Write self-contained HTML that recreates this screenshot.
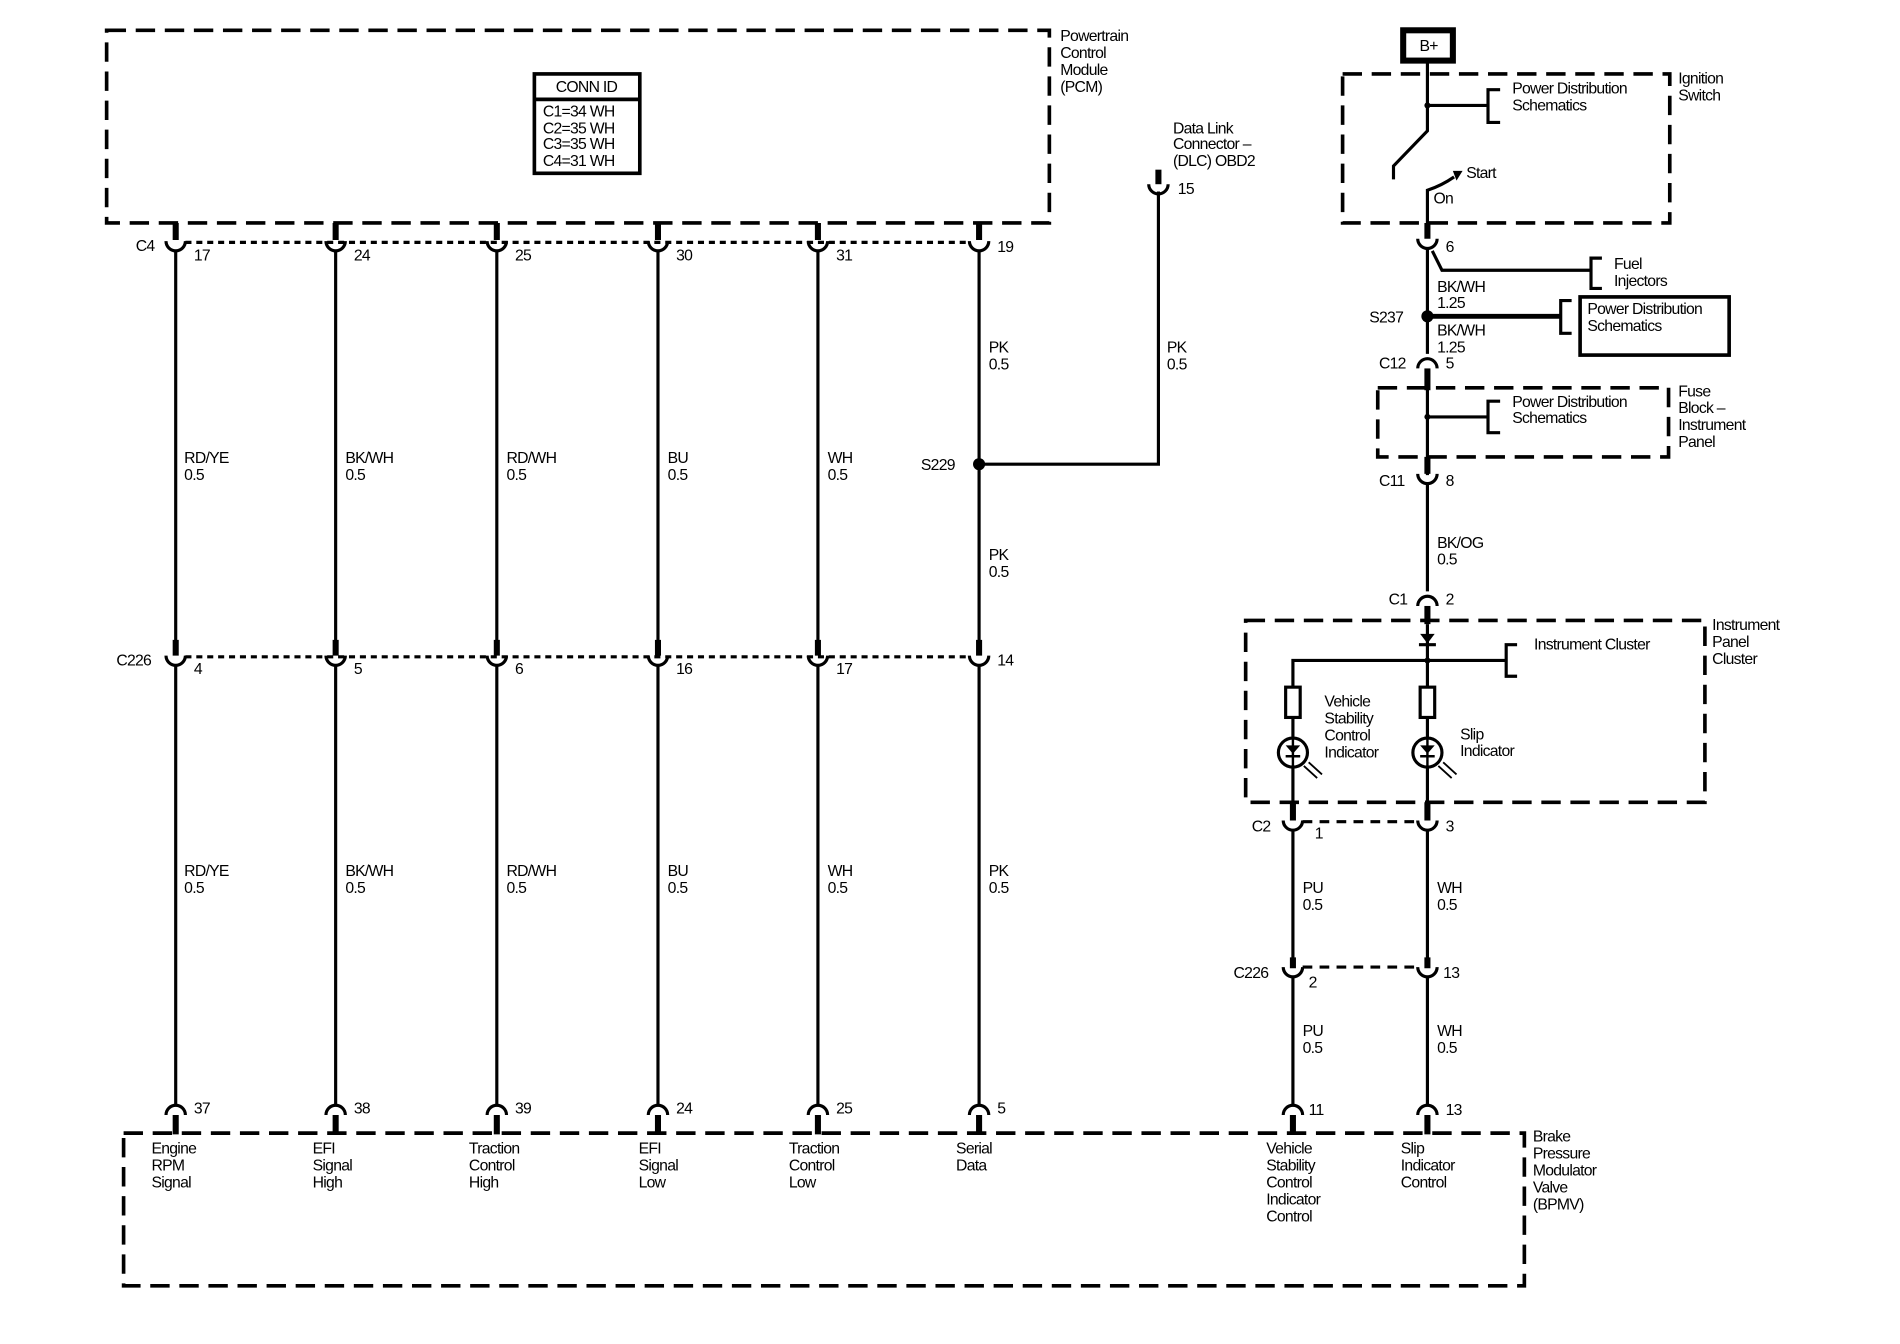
<!DOCTYPE html>
<html><head><meta charset="utf-8"><style>
html,body{margin:0;padding:0;background:#fff;}
svg{display:block;}
text{font-family:"Liberation Sans",sans-serif;font-size:13px;fill:#000;letter-spacing:-0.6px;}
.d{fill:none;stroke:#000;stroke-width:3;stroke-dasharray:16 8;}
.w{fill:none;stroke:#000;stroke-width:2.6;}
.t{fill:none;stroke:#000;stroke-width:5;}
.c{fill:none;stroke:#000;stroke-width:2.6;}
.dot{fill:none;stroke:#000;stroke-width:2.6;stroke-dasharray:5 4;}
.dsh{fill:none;stroke:#000;stroke-width:2.6;stroke-dasharray:8 6;}
</style></head><body>
<svg width="1900" height="1344" viewBox="0 0 1568 1109" preserveAspectRatio="none" xmlns="http://www.w3.org/2000/svg">
<!-- PCM -->
<rect x="88" y="25" width="778" height="159" class="d"/>
<text x="875" y="34">Powertrain</text><text x="875" y="48">Control</text><text x="875" y="62">Module</text><text x="875" y="76">(PCM)</text>
<rect x="441" y="61" width="87" height="82" fill="none" stroke="#000" stroke-width="3"/>
<line x1="441" y1="82" x2="528" y2="82" stroke="#000" stroke-width="3"/>
<text x="484" y="76" text-anchor="middle">CONN ID</text>
<text x="448" y="96">C1=34 WH</text><text x="448" y="110">C2=35 WH</text><text x="448" y="123">C3=35 WH</text><text x="448" y="137">C4=31 WH</text>

<line x1="153" y1="200" x2="800" y2="200" class="dot"/>
<path class="t" d="M145 184V198M277 184V198M410 184V198M543 184V198M675 184V198M808 184V198"/>
<path class="c" d="M137 199A8 8 0 0 0 153 199M269 199A8 8 0 0 0 285 199M402 199A8 8 0 0 0 418 199M535 199A8 8 0 0 0 551 199M667 199A8 8 0 0 0 683 199M800 199A8 8 0 0 0 816 199"/>
<text x="112" y="207">C4</text>
<text x="160" y="215">17</text><text x="292" y="215">24</text><text x="425" y="215">25</text><text x="558" y="215">30</text><text x="690" y="215">31</text><text x="823" y="208">19</text>

<path class="w" d="M145 207V536M277 207V536M410 207V536M543 207V536M675 207V536M808 207V536"/>
<text x="152" y="382">RD/YE</text><text x="152" y="396">0.5</text>
<text x="285" y="382">BK/WH</text><text x="285" y="396">0.5</text>
<text x="418" y="382">RD/WH</text><text x="418" y="396">0.5</text>
<text x="551" y="382">BU</text><text x="551" y="396">0.5</text>
<text x="683" y="382">WH</text><text x="683" y="396">0.5</text>
<text x="816" y="291">PK</text><text x="816" y="305">0.5</text>
<text x="816" y="462">PK</text><text x="816" y="476">0.5</text>
<text x="760" y="388">S229</text>
<circle cx="808" cy="383" r="5"/>
<path class="w" d="M808 383H956V158"/>
<text x="963" y="291">PK</text><text x="963" y="305">0.5</text>
<path class="t" d="M956 140V152"/><path class="c" d="M948 152A8 8 0 0 0 964 152"/>
<text x="972" y="160">15</text>
<text x="968" y="110">Data Link</text><text x="968" y="123">Connector –</text><text x="968" y="137">(DLC) OBD2</text>

<line x1="153" y1="542" x2="800" y2="542" class="dot"/>
<path class="t" d="M145 528V541M277 528V541M410 528V541M543 528V541M675 528V541M808 528V541"/>
<path class="c" d="M137 541A8 8 0 0 0 153 541M269 541A8 8 0 0 0 285 541M402 541A8 8 0 0 0 418 541M535 541A8 8 0 0 0 551 541M667 541A8 8 0 0 0 683 541M800 541A8 8 0 0 0 816 541"/>
<text x="96" y="549">C226</text>
<text x="160" y="556">4</text><text x="292" y="556">5</text><text x="425" y="556">6</text><text x="558" y="556">16</text><text x="690" y="556">17</text><text x="823" y="549">14</text>
<path class="w" d="M145 549V911M277 549V911M410 549V911M543 549V911M675 549V911M808 549V911"/>
<text x="152" y="723">RD/YE</text><text x="152" y="737">0.5</text>
<text x="285" y="723">BK/WH</text><text x="285" y="737">0.5</text>
<text x="418" y="723">RD/WH</text><text x="418" y="737">0.5</text>
<text x="551" y="723">BU</text><text x="551" y="737">0.5</text>
<text x="683" y="723">WH</text><text x="683" y="737">0.5</text>
<text x="816" y="723">PK</text><text x="816" y="737">0.5</text>

<path class="c" d="M137 920A8 8 0 0 1 153 920M269 920A8 8 0 0 1 285 920M402 920A8 8 0 0 1 418 920M535 920A8 8 0 0 1 551 920M667 920A8 8 0 0 1 683 920M800 920A8 8 0 0 1 816 920M1059 920A8 8 0 0 1 1075 920M1170 920A8 8 0 0 1 1186 920"/>
<path class="t" d="M145 920V936M277 920V936M410 920V936M543 920V936M675 920V936M808 920V936M1067 920V936M1178 920V936"/>
<text x="160" y="919">37</text><text x="292" y="919">38</text><text x="425" y="919">39</text><text x="558" y="919">24</text><text x="690" y="919">25</text><text x="823" y="919">5</text><text x="1080" y="920">11</text><text x="1193" y="920">13</text>
<rect x="102" y="935" width="1156" height="126" class="d"/>
<text x="125" y="952">Engine</text><text x="125" y="966">RPM</text><text x="125" y="980">Signal</text>
<text x="258" y="952">EFI</text><text x="258" y="966">Signal</text><text x="258" y="980">High</text>
<text x="387" y="952">Traction</text><text x="387" y="966">Control</text><text x="387" y="980">High</text>
<text x="527" y="952">EFI</text><text x="527" y="966">Signal</text><text x="527" y="980">Low</text>
<text x="651" y="952">Traction</text><text x="651" y="966">Control</text><text x="651" y="980">Low</text>
<text x="789" y="952">Serial</text><text x="789" y="966">Data</text>
<text x="1045" y="952">Vehicle</text><text x="1045" y="966">Stability</text><text x="1045" y="980">Control</text><text x="1045" y="994">Indicator</text><text x="1045" y="1008">Control</text>
<text x="1156" y="952">Slip</text><text x="1156" y="966">Indicator</text><text x="1156" y="980">Control</text>
<text x="1265" y="942">Brake</text><text x="1265" y="956">Pressure</text><text x="1265" y="970">Modulator</text><text x="1265" y="984">Valve</text><text x="1265" y="998">(BPMV)</text>

<rect x="1158" y="25" width="41" height="25" fill="none" stroke="#000" stroke-width="5"/>
<text x="1179" y="42" text-anchor="middle">B+</text>
<rect x="1108" y="61" width="270" height="123" class="d"/>
<text x="1385" y="69">Ignition</text><text x="1385" y="83">Switch</text>
<path class="w" d="M1178 50V108L1150 137V148"/>
<circle cx="1178" cy="87" r="2.5"/>
<path class="w" d="M1178 87H1228M1238 74H1228V101H1238"/>
<text x="1248" y="77">Power Distribution</text><text x="1248" y="91">Schematics</text>
<path class="w" d="M1178 195V157Q1190 153 1200 146"/><path d="M1199 141L1207 141L1202 149Z"/>
<text x="1210" y="147">Start</text><text x="1183" y="168">On</text>
<path class="t" d="M1178 184V197"/><path class="c" d="M1170 197A8 8 0 0 0 1186 197"/>
<text x="1193" y="208">6</text>
<path class="w" d="M1178 205V292M1182 207L1190 223H1313M1322 213H1313V238H1322"/>
<text x="1332" y="222">Fuel</text><text x="1332" y="236">Injectors</text>
<text x="1186" y="241">BK/WH</text><text x="1186" y="254">1.25</text>
<circle cx="1178" cy="261" r="5"/>
<text x="1130" y="266">S237</text>
<path class="t" d="M1178 261H1288" style="stroke-width:4"/>
<path class="w" d="M1297 248H1288V275H1297"/>
<rect x="1304" y="245" width="123" height="48" fill="none" stroke="#000" stroke-width="3"/>
<text x="1310" y="259">Power Distribution</text><text x="1310" y="273">Schematics</text>
<text x="1186" y="277">BK/WH</text><text x="1186" y="291">1.25</text>
<path class="c" d="M1170 304A8 8 0 0 1 1186 304"/><path class="t" d="M1178 304V322"/>
<text x="1138" y="304">C12</text><text x="1193" y="304">5</text>
<rect x="1137" y="320" width="240" height="57" class="d"/>
<path class="w" d="M1178 320V392M1178 344H1228M1238 331H1228V357H1238"/>
<circle cx="1178" cy="344" r="2.5"/>
<text x="1248" y="336">Power Distribution</text><text x="1248" y="349">Schematics</text>
<text x="1385" y="327">Fuse</text><text x="1385" y="341">Block –</text><text x="1385" y="355">Instrument</text><text x="1385" y="369">Panel</text>
<path class="t" d="M1178 377V391"/><path class="c" d="M1170 391A8 8 0 0 0 1186 391"/>
<text x="1138" y="401">C11</text><text x="1193" y="401">8</text>
<path class="w" d="M1178 399V488"/>
<text x="1186" y="452">BK/OG</text><text x="1186" y="466">0.5</text>
<path class="c" d="M1170 500A8 8 0 0 1 1186 500"/><path class="t" d="M1178 500V515"/>
<text x="1146" y="499">C1</text><text x="1193" y="499">2</text>
<rect x="1028" y="512" width="379" height="150" class="d"/>
<text x="1413" y="520">Instrument</text><text x="1413" y="534">Panel</text><text x="1413" y="548">Cluster</text>
<path d="M1172 523H1184L1178 531Z"/><path class="w" d="M1171 532H1185"/>
<path class="w" d="M1178 515V672M1067 672V545H1243M1252 532H1243V558H1252"/>
<circle cx="1178" cy="545" r="2.5"/>
<text x="1266" y="536">Instrument Cluster</text>
<rect x="1061" y="567" width="12" height="25" fill="#fff" stroke="#000" stroke-width="2.6"/>
<rect x="1172" y="567" width="12" height="25" fill="#fff" stroke="#000" stroke-width="2.6"/>
<circle cx="1067" cy="621" r="12" fill="#fff" stroke="#000" stroke-width="2.6"/>
<circle cx="1178" cy="621" r="12" fill="#fff" stroke="#000" stroke-width="2.6"/>
<path d="M1061 615H1073L1067 622Z M1172 615H1184L1178 622Z"/>
<path class="w" d="M1067 609V633M1178 609V633M1061 624H1073M1172 624H1184" style="stroke-width:2"/>
<path class="w" d="M1076 632L1087 642M1080 629L1091 639M1187 632L1198 642M1191 629L1202 639" style="stroke-width:1.5"/>
<text x="1093" y="583">Vehicle</text><text x="1093" y="597">Stability</text><text x="1093" y="611">Control</text><text x="1093" y="625">Indicator</text>
<text x="1205" y="610">Slip</text><text x="1205" y="624">Indicator</text>

<line x1="1075" y1="678" x2="1170" y2="678" class="dsh"/>
<path class="t" d="M1067 662V677M1178 662V677"/>
<path class="c" d="M1059 677A8 8 0 0 0 1075 677M1170 677A8 8 0 0 0 1186 677"/>
<text x="1033" y="686">C2</text><text x="1085" y="692">1</text><text x="1193" y="686">3</text>
<path class="w" d="M1067 685V792M1178 685V792"/>
<text x="1075" y="737">PU</text><text x="1075" y="751">0.5</text>
<text x="1186" y="737">WH</text><text x="1186" y="751">0.5</text>
<line x1="1075" y1="798" x2="1170" y2="798" class="dsh"/>
<path class="t" d="M1067 790V799M1178 790V799"/>
<path class="c" d="M1059 798A8 8 0 0 0 1075 798M1170 798A8 8 0 0 0 1186 798"/>
<text x="1018" y="807">C226</text><text x="1080" y="815">2</text><text x="1191" y="807">13</text>
<path class="w" d="M1067 806V912M1178 806V912"/>
<text x="1075" y="855">PU</text><text x="1075" y="869">0.5</text>
<text x="1186" y="855">WH</text><text x="1186" y="869">0.5</text>
</svg>
</body></html>
